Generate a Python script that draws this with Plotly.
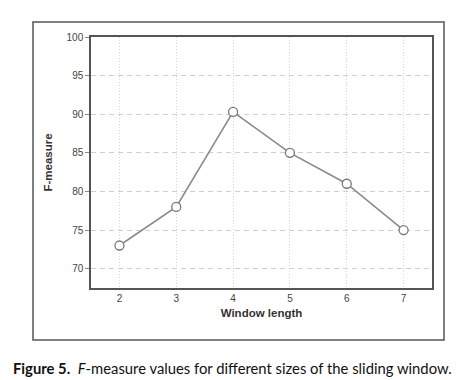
import plotly.graph_objects as go

window_length = [2, 3, 4, 5, 6, 7]
f_measure = [73, 78, 90.3, 85, 81, 75]
y_ticks = [70, 75, 80, 85, 90, 95, 100]

W, H = 462, 380
L, R, T, B = 83, 38, 29, 100
pw, ph = W - L - R, H - T - B

def px(x):
    return (x - L) / pw

def py(y):
    return (H - B - y) / ph

fig = go.Figure()
fig.add_trace(go.Scatter(
    x=window_length, y=f_measure, mode="lines+markers",
    line=dict(color="#8a8a8a", width=1.6),
    marker=dict(symbol="circle", size=9, color="white",
                line=dict(color="#777777", width=1.3)),
    showlegend=False,
))

fig.update_layout(
    width=W, height=H,
    margin=dict(l=L, r=R, t=T, b=B),
    paper_bgcolor="white", plot_bgcolor="white",
    font=dict(family="Liberation Sans, Arial, sans-serif", color="#333"),
    xaxis=dict(
        range=[1.5, 7.5], tickvals=window_length,
        showgrid=True, gridcolor="#d4d4d4", griddash="1px,2px", gridwidth=1,
        showline=True, linecolor="#555", linewidth=1.5, mirror=True,
        ticks="", tickfont=dict(size=10, color="#444"),
        title=dict(text="<b>Window length</b>", font=dict(size=11.5, color="#333"), standoff=6),
        zeroline=False,
    ),
    yaxis=dict(
        range=[67.5, 100], tickvals=y_ticks,
        showgrid=True, gridcolor="#d0d0d0", griddash="5px,4px", gridwidth=1.3,
        showline=True, linecolor="#555", linewidth=1.5, mirror=True,
        ticks="outside", ticklen=4, tickcolor="#888",
        tickfont=dict(size=10, color="#444"),
        title=dict(text="<b>F-measure</b>", font=dict(size=11.5, color="#333"), standoff=12),
        zeroline=False,
    ),
    shapes=[dict(type="rect", xref="paper", yref="paper",
                 x0=px(25), x1=px(436), y0=py(332), y1=py(14),
                 line=dict(color="#555", width=1.5), fillcolor="rgba(0,0,0,0)")],
    annotations=[dict(
        text="<b>Figure 5.</b>  <i>F</i>-measure values for different sizes of the sliding window.",
        xref="paper", yref="paper", x=px(3), y=py(360),
        xanchor="left", yanchor="middle", showarrow=False,
        font=dict(family="Lato, sans-serif", size=14.8, color="#111"),
    )],
)

fig.write_html("out.html")
